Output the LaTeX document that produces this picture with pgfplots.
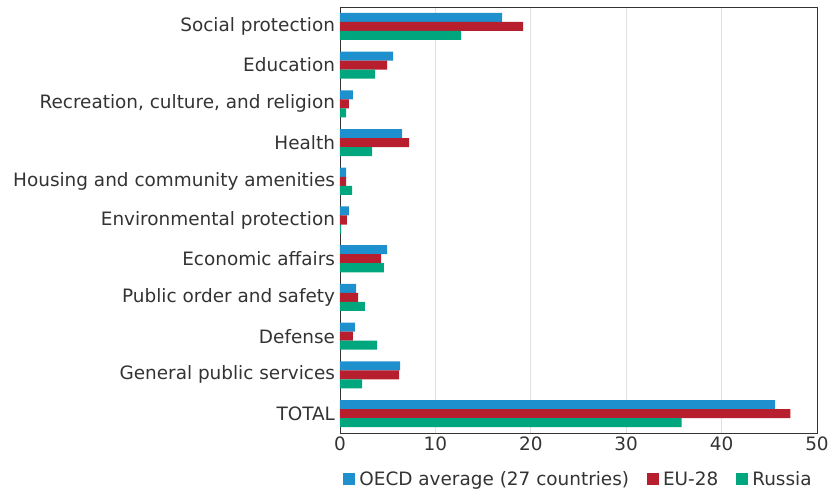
\documentclass[border=0pt]{standalone}
\usepackage{fontspec}
\setmainfont{DejaVu Sans}
\usepackage{pgfplots}
\pgfplotsset{compat=1.18}
\definecolor{cblue}{HTML}{1E90CE}
\definecolor{cred}{HTML}{B71F2E}
\definecolor{cgreen}{HTML}{00A67E}
\definecolor{textgray}{HTML}{333333}
\begin{document}
\begin{tikzpicture}
\path[use as bounding box] (-340bp,-59bp) rectangle (488bp,433bp);
\begin{axis}[
  at={(0,0)}, anchor=south west,
  scale only axis, width=477bp, height=426bp,
  xbar, bar width=0.233,
  xmin=0, xmax=50, ymin=-0.5, ymax=10.5,
  ytick={0,...,10},
  yticklabels={TOTAL, General public services, Defense, Public order and safety, Economic affairs, Environmental protection, Housing and community amenities, Health, {Recreation, culture, and religion}, Education, Social protection},
  xtick={0,10,...,50},
  xmajorgrids, grid style={draw=black!12, line width=0.8pt},
  major tick length=0pt,
  tick label style={font=\fontsize{18.5}{22}\selectfont, text=textgray},
  yticklabel style={xshift=-1.5bp},
  /pgf/number format/assume math mode=true,
  axis line style={draw=textgray, line width=0.8pt},
  legend style={at={(0.5,-0.081)}, anchor=north, draw=none, legend columns=-1,
    font=\fontsize{18.5}{22}\selectfont, text=textgray,
    /tikz/every even column/.append style={column sep=16bp}},
  legend image code/.code={\fill[#1] (0bp,-6bp) rectangle (12bp,6bp);\path (14bp,0bp);},
]
\addplot[fill=cblue, draw=none, bar shift=0.233] coordinates {
 (45.6,0) (6.29,1) (1.57,2) (1.68,3) (4.93,4) (0.94,5) (0.63,6) (6.5,7) (1.36,8) (5.56,9) (17.0,10)};
\addplot[fill=cred, draw=none, bar shift=0] coordinates {
 (47.2,0) (6.19,1) (1.36,2) (1.89,3) (4.3,4) (0.73,5) (0.63,6) (7.24,7) (0.94,8) (4.93,9) (19.2,10)};
\addplot[fill=cgreen, draw=none, bar shift=-0.233] coordinates {
 (35.8,0) (2.31,1) (3.88,2) (2.62,3) (4.6,4) (0.12,5) (1.26,6) (3.36,7) (0.63,8) (3.67,9) (12.7,10)};
\legend{OECD average (27 countries), EU-28, Russia}
\end{axis}
\end{tikzpicture}
\end{document}
